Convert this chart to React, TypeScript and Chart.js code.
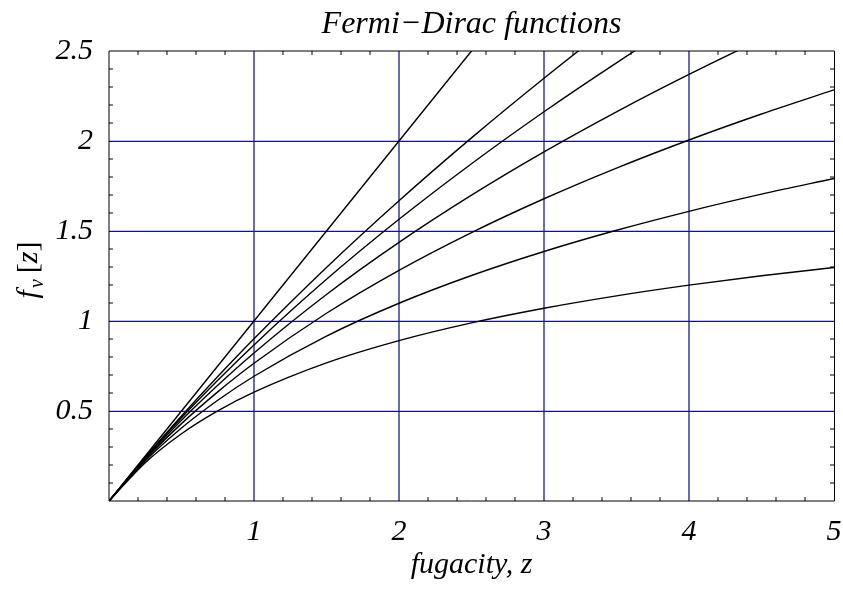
import React, { useEffect, useRef } from 'react';
import { Chart, registerables } from 'chart.js';

Chart.register(...registerables);

// fugacity z
const Z = [0, 0.25, 0.5, 0.75, 1, 1.5, 2, 2.5, 3, 3.5, 4, 4.5, 5];
// f_nu[z] for nu = infinity (f = z), 3, 5/2, 2, 3/2, 1, 1/2
const F_INF = [0, 0.25, 0.5, 0.75, 1, 1.5, 2, 2.5, 3, 3.5, 4, 4.5, 5];
const F_3 = [0, 0.2427, 0.4726, 0.6917, 0.9015, 1.2978, 1.6683, 2.0175, 2.3488, 2.6647, 2.9671, 3.2576, 3.5375];
const F_5HALF = [0, 0.2398, 0.4623, 0.6706, 0.8672, 1.2315, 1.565, 1.8739, 2.1627, 2.4345, 2.6918, 2.9365, 3.17];
const F_2 = [0, 0.2359, 0.4484, 0.6428, 0.8225, 1.1474, 1.4367, 1.6989, 1.9394, 2.1621, 2.3699, 2.5651, 2.7493];
const F_3HALF = [0, 0.2305, 0.4299, 0.6064, 0.7651, 1.0429, 1.2814, 1.4912, 1.6791, 1.8495, 2.0057, 2.15, 2.2842];
const F_1 = [0, 0.2231, 0.4055, 0.5596, 0.6931, 0.9163, 1.0986, 1.2528, 1.3863, 1.5041, 1.6094, 1.7047, 1.7918];
const F_HALF = [0, 0.2132, 0.3738, 0.5008, 0.6049, 0.7677, 0.8913, 0.9898, 1.071, 1.1398, 1.1991, 1.2511, 1.2973];

const SERIES = [F_INF, F_3, F_5HALF, F_2, F_3HALF, F_1, F_HALF];
const SERIES_NAMES = ['ν = ∞', 'ν = 3', 'ν = 5/2', 'ν = 2', 'ν = 3/2', 'ν = 1', 'ν = 1/2'];

const X_TICKS = [1, 2, 3, 4, 5];
const Y_TICKS = [0.5, 1, 1.5, 2, 2.5];
const X_MIN = 0, X_MAX = 5, X_MINOR_STEP = 0.2;
const Y_MIN = 0, Y_MAX = 2.5, Y_MINOR_STEP = 0.1;

const TITLE = 'Fermi\u2212Dirac functions';
const X_TITLE = 'fugacity, z';

const SERIF = "'Liberation Serif', 'Times New Roman', Times, serif";
const GRID_H = '#14147e';
const GRID_V = '#1c1c96';

const gridPlugin = {
  id: 'gridPlugin',
  beforeDatasetsDraw(chart: any) {
    const { ctx, chartArea: a, scales } = chart;
    const x = scales.x, y = scales.y;
    ctx.save();
    ctx.lineWidth = 1.2;
    ctx.strokeStyle = GRID_H;
    ctx.beginPath();
    for (const v of Y_TICKS) {
      if (v <= Y_MIN || v >= Y_MAX) continue;
      const py = Math.round(y.getPixelForValue(v)) + 0.4;
      ctx.moveTo(a.left, py);
      ctx.lineTo(a.right, py);
    }
    ctx.stroke();
    ctx.lineWidth = 1.3;
    ctx.strokeStyle = GRID_V;
    ctx.beginPath();
    for (const v of X_TICKS) {
      if (v <= X_MIN || v >= X_MAX) continue;
      const px = Math.round(x.getPixelForValue(v));
      ctx.moveTo(px, a.top);
      ctx.lineTo(px, a.bottom);
    }
    ctx.stroke();
    ctx.restore();
  },
};

const frameAndLabel = {
  id: 'frameAndLabel',
  afterDatasetsDraw(chart: any) {
    const { ctx, chartArea: a, scales } = chart;
    const x = scales.x, y = scales.y;
    ctx.save();
    ctx.strokeStyle = '#000';
    ctx.lineWidth = 1;
    ctx.beginPath();
    const nx = Math.round((X_MAX - X_MIN) / X_MINOR_STEP);
    for (let i = 1; i < nx; i++) {
      const v = X_MIN + i * X_MINOR_STEP;
      if (Math.abs(v - Math.round(v)) < 1e-6) continue;
      const px = x.getPixelForValue(v);
      ctx.moveTo(px, a.bottom);
      ctx.lineTo(px, a.bottom - 4);
      ctx.moveTo(px, a.top);
      ctx.lineTo(px, a.top + 4);
    }
    const ny = Math.round((Y_MAX - Y_MIN) / Y_MINOR_STEP);
    for (let i = 1; i < ny; i++) {
      const v = Y_MIN + i * Y_MINOR_STEP;
      if (Math.abs(v * 2 - Math.round(v * 2)) < 1e-6) continue;
      const py = y.getPixelForValue(v);
      ctx.moveTo(a.left, py);
      ctx.lineTo(a.left + 4, py);
      ctx.moveTo(a.right, py);
      ctx.lineTo(a.right - 4, py);
    }
    ctx.stroke();
    // frame
    ctx.beginPath();
    ctx.moveTo(a.right + 0.5, a.top);
    ctx.lineTo(a.left, a.top);
    ctx.lineTo(a.left, a.bottom);
    ctx.lineTo(a.right + 0.5, a.bottom);
    ctx.stroke();
    ctx.beginPath();
    ctx.moveTo(a.right + 0.5, a.top);
    ctx.lineTo(a.right + 0.5, a.bottom);
    ctx.stroke();
    ctx.restore();
  },
  afterDraw(chart: any) {
    const { ctx, chartArea: a } = chart;
    ctx.save();
    const cy = (a.top + a.bottom) / 2 - 6;
    ctx.translate(37, cy);
    ctx.rotate(-Math.PI / 2);
    ctx.fillStyle = '#000';
    ctx.textBaseline = 'alphabetic';
    const fBig = `italic 30px ${SERIF}`;
    const fSub = `italic 20px ${SERIF}`;
    const fUp = `normal 30px ${SERIF}`;
    const parts = [
      { t: 'f', f: fBig, dy: 0, gap: 2 },
      { t: 'ν', f: fSub, dy: 6, gap: 6 },
      { t: '[', f: fUp, dy: 0, gap: 0 },
      { t: 'z', f: fBig, dy: 0, gap: 0 },
      { t: ']', f: fUp, dy: 0, gap: 0 },
    ];
    let total = 0;
    for (const p of parts) { ctx.font = p.f; total += ctx.measureText(p.t).width + p.gap; }
    let xx = -total / 2;
    for (const p of parts) {
      ctx.font = p.f;
      ctx.fillText(p.t, xx, p.dy);
      xx += ctx.measureText(p.t).width + p.gap;
    }
    ctx.restore();
  },
};

export default function App() {
  const ref = useRef<HTMLCanvasElement | null>(null);
  useEffect(() => {
    document.body.style.margin = '0';
    const canvas = ref.current;
    if (!canvas) return;
    const datasets = SERIES.map((arr, i) => ({
      label: SERIES_NAMES[i],
      data: Z.map((z, j) => ({ x: z, y: arr[j] })),
      borderColor: '#000',
      backgroundColor: '#000',
      borderWidth: 1.4,
      pointRadius: 0,
      fill: false,
      cubicInterpolationMode: 'monotone' as const,
    }));
    const tickFont = { family: SERIF, size: 30, style: 'italic' as const, weight: 'normal' as const };
    const chart = new Chart(canvas, {
      type: 'line',
      data: { datasets },
      plugins: [gridPlugin, frameAndLabel],
      options: {
        animation: false,
        responsive: false,
        devicePixelRatio: 1,
        layout: { padding: { left: 0, right: 9, top: 0, bottom: 0 } },
        plugins: {
          legend: { display: false },
          tooltip: { enabled: false },
          title: {
            display: true,
            text: TITLE,
            fullSize: false,
            color: '#000',
            font: { family: SERIF, size: 32, style: 'italic', weight: 'normal' },
            padding: { top: 5, bottom: 7.6 },
          },
        },
        scales: {
          x: {
            type: 'linear',
            position: 'bottom',
            min: X_MIN,
            max: X_MAX,
            afterBuildTicks: (s: any) => { s.ticks = X_TICKS.map((v) => ({ value: v })); },
            afterFit: (s: any) => { s.height = 88; s.paddingLeft = 0; s.paddingRight = 0; },
            ticks: {
              color: '#000',
              font: tickFont,
              padding: 13,
              maxRotation: 0,
              autoSkip: false,
              callback: (v: any) => String(v),
            },
            grid: { display: false, drawTicks: false },
            border: { display: false },
            title: {
              display: true,
              text: X_TITLE,
              color: '#000',
              font: tickFont,
              padding: { top: 0, bottom: 6 },
            },
          },
          y: {
            type: 'linear',
            position: 'left',
            min: Y_MIN,
            max: Y_MAX,
            afterBuildTicks: (s: any) => { s.ticks = Y_TICKS.map((v) => ({ value: v })); },
            afterFit: (s: any) => { s.width = 109; s.paddingTop = 0; s.paddingBottom = 0; },
            ticks: {
              color: '#000',
              font: tickFont,
              padding: 16,
              autoSkip: false,
              callback: (v: any) => String(v),
            },
            grid: { display: false, drawTicks: false },
            border: { display: false },
          },
        },
      },
    });
    return () => chart.destroy();
  }, []);
  return (
    <div style={{ width: 843, height: 589 }}>
      <canvas ref={ref} width={843} height={589} style={{ display: 'block' }} />
    </div>
  );
}
